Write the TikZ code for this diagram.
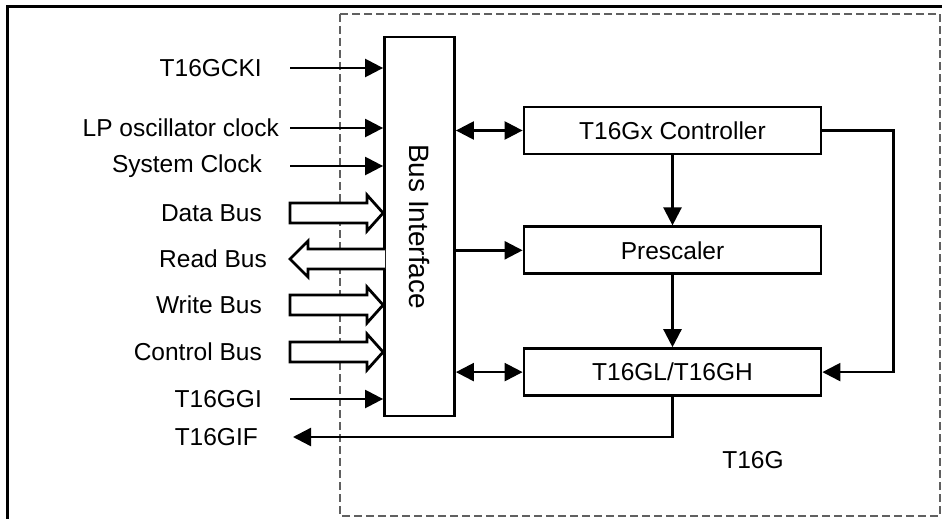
\documentclass[tikz,border=0pt]{standalone}
\usepackage{fontspec}
\setmainfont{Liberation Sans}
\usetikzlibrary{positioning, arrows.meta}
\definecolor{clrline}{HTML}{000000}
\definecolor{clrgroup}{HTML}{606060}

\begin{document}
\begin{tikzpicture}[
    x=1pt, y=-1pt,
    >={Triangle[length=18pt, width=18pt]},
    every node/.style={font=\fontsize{24.5}{28}\selectfont},
    block/.style={draw=clrline, line width=2.8pt, minimum width=297pt,
                  minimum height=47pt, inner sep=0pt},
    arrow/.style={->, line width=2.4pt, color=clrline},
    biarrow/.style={<->, line width=2.4pt, color=clrline},
    bus/.style={draw=clrline, line width=2.8pt, fill=white, line join=miter},
    signal/.style={anchor=east, inner sep=0pt},
    group/.style={draw=clrgroup, dashed, dash pattern=on 8pt off 4pt, line width=1.2pt},
]
\useasboundingbox (0,0) rectangle (942,519);
\clip (0,0) rectangle (942,519);
\draw[line width=3pt] (7,7) rectangle (960,540);
\draw[group] (340,14) rectangle (940,516);
\node[block, minimum width=70pt, minimum height=379pt, font=\fontsize{28}{32}\selectfont] (busif) at (419.5,226.5) {\rotatebox{-90}{Bus Interface}};
\node[block] (ctrl) at (672.5,130.5) {T16Gx Controller};
\node[block, below=70pt of ctrl] (presc) {Prescaler};
\node[block, below=72pt of presc] (tgl) {T16GL/T16GH};
\node (t16g) at (753,460) {T16G};
\node[signal] (cki) at (262,68) {T16GCKI};
\node[signal] (lpclk) at (279,128) {LP oscillator clock};
\node[signal] (sysclk) at (262,166) {System Clock};
\node[signal] (databus) at (262,213) {Data Bus};
\node[signal] (readbus) at (267,259) {Read Bus};
\node[signal] (writebus) at (262,305) {Write Bus};
\node[signal] (ctrlbus) at (262,352) {Control Bus};
\node[signal] (ggi) at (262,399) {T16GGI};
\node[signal] (gif) at (258,437) {T16GIF};
\foreach \n in {cki, sysclk, ggi}
  \draw[arrow] ([shift={(28,0)}]\n.east) -- (\n.east -| busif.west);
\draw[arrow] ([shift={(11,0)}]lpclk.east) -- (lpclk.east -| busif.west);
\foreach \n in {databus, writebus, ctrlbus}
  \draw[bus] ([shift={(28,-10)}]\n.east) -- ([shift={(105,-10)}]\n.east) -- ([shift={(105,-18)}]\n.east) -- (\n.east -| busif.west) -- ([shift={(105,18)}]\n.east) -- ([shift={(105,10)}]\n.east) -- ([shift={(28,10)}]\n.east) -- cycle;
\draw[bus] ([shift={(118,-10)}]readbus.east) -- ([shift={(41,-10)}]readbus.east) -- ([shift={(41,-18)}]readbus.east) -- ([shift={(23,0)}]readbus.east) -- ([shift={(41,18)}]readbus.east) -- ([shift={(41,10)}]readbus.east) -- ([shift={(118,10)}]readbus.east);
\draw[biarrow] (busif.east |- ctrl.west) -- (ctrl.west);
\draw[arrow] (busif.east |- presc.west) -- (presc.west);
\draw[biarrow] (busif.east |- tgl.west) -- (tgl.west);
\draw[arrow] (ctrl.south) -- (presc.north);
\draw[arrow] (presc.south) -- (tgl.north);
\draw[arrow] (ctrl.east) -- ++(71,0) |- (tgl.east);
\draw[arrow] (tgl.south) |- ([shift={(35,0)}]gif.east);
\end{tikzpicture}
\end{document}
